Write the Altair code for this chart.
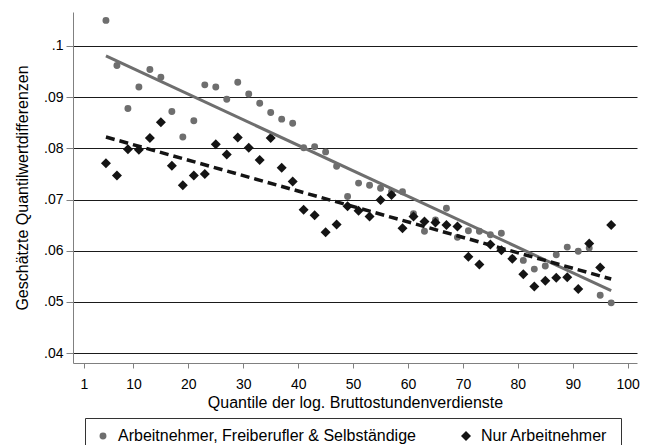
import altair as alt
import pandas as pd

quantiles = list(range(5, 98, 2))

names = ["Arbeitnehmer, Freiberufler & Selbständige", "Nur Arbeitnehmer"]

alle = [0.1050, 0.0962, 0.0878, 0.0920, 0.0954, 0.0939, 0.0872, 0.0822, 0.0854, 0.0924,
        0.0920, 0.0896, 0.0929, 0.0906, 0.0888, 0.0870, 0.0857, 0.0849, 0.0801, 0.0803,
        0.0793, 0.0765, 0.0706, 0.0732, 0.0728, 0.0722, 0.0715, 0.0715, 0.0672, 0.0638,
        0.0660, 0.0683, 0.0626, 0.0639, 0.0638, 0.0631, 0.0634, 0.0585, 0.0581, 0.0564,
        0.0570, 0.0592, 0.0607, 0.0599, 0.0605, 0.0513, 0.0498]

nur_an = [0.0771, 0.0747, 0.0798, 0.0797, 0.0820, 0.0851, 0.0766, 0.0728, 0.0747, 0.0750,
          0.0808, 0.0788, 0.0821, 0.0801, 0.0777, 0.0820, 0.0762, 0.0735, 0.0680, 0.0669,
          0.0636, 0.0651, 0.0687, 0.0678, 0.0667, 0.0699, 0.0709, 0.0644, 0.0667, 0.0657,
          0.0655, 0.0650, 0.0647, 0.0588, 0.0573, 0.0612, 0.0601, 0.0584, 0.0554, 0.0530,
          0.0541, 0.0547, 0.0548, 0.0525, 0.0614, 0.0567, 0.0650]

x_ticks = [1, 10, 20, 30, 40, 50, 60, 70, 80, 90, 100]
y_ticks = [0.04, 0.05, 0.06, 0.07, 0.08, 0.09, 0.1]

rows = []
for q, v in zip(quantiles, alle):
    rows.append({"q": q, "v": v, "serie": names[0]})
for q, v in zip(quantiles, nur_an):
    rows.append({"q": q, "v": v, "serie": names[1]})
df = pd.DataFrame(rows)

FONT = "Liberation Sans"
GREY = "#6e6e6e"
BLACK = "#141414"
AXC = "#808080"

xscale = alt.Scale(domain=[-1, 101.7], nice=False, zero=False)
yscale = alt.Scale(domain=[0.03805, 0.10664], nice=False, zero=False)

xaxis = alt.Axis(values=x_ticks, grid=False, tickSize=5, labelPadding=9,
                 title="Quantile der log. Bruttostundenverdienste", titlePadding=3,
                 domainColor=AXC, tickColor=AXC, labelFlush=False, labelOverlap=False)
yaxis = alt.Axis(values=y_ticks, labelExpr="substring(format(datum.value, '.2~f'), 1)",
                 grid=True, gridColor="#1a1a1a", gridWidth=1, tickSize=7,
                 tickColor=AXC, domainColor=AXC, labelPadding=3,
                 title="Geschätzte Quantilwertdifferenzen", titlePadding=13)

leg = alt.Legend(title="\u00a0", titleOrient="right", titlePadding=4,
                 orient="none", legendX=12, legendY=406, direction="horizontal",
                 strokeColor="#333333", padding=10, fillColor="white",
                 labelFontSize=16, labelFont=FONT, labelColor="#000",
                 columnPadding=42, labelOffset=7, symbolStrokeWidth=0, labelLimit=400)

base = alt.Chart(df)

points = base.mark_point(filled=True, opacity=1, strokeWidth=0).encode(
    x=alt.X("q:Q", scale=xscale, axis=xaxis),
    y=alt.Y("v:Q", scale=yscale, axis=yaxis),
    color=alt.Color("serie:N", scale=alt.Scale(domain=names, range=[GREY, BLACK]), legend=leg),
    shape=alt.Shape("serie:N", scale=alt.Scale(domain=names, range=["circle", "diamond"]), legend=leg),
    size=alt.Size("serie:N", scale=alt.Scale(domain=names, range=[48, 100]), legend=leg),
)

line1 = base.transform_filter(alt.datum.serie == names[0]).transform_regression(
    "q", "v", extent=[5, 97]).mark_line(color=GREY, strokeWidth=3).encode(
    x=alt.X("q:Q", scale=xscale), y=alt.Y("v:Q", scale=yscale))

line2 = base.transform_filter(alt.datum.serie == names[1]).transform_regression(
    "q", "v", extent=[5, 97]).mark_line(color=BLACK, strokeWidth=3.5, strokeDash=[9, 5]).encode(
    x=alt.X("q:Q", scale=xscale), y=alt.Y("v:Q", scale=yscale))

chart = alt.layer(points, line1, line2).properties(
    width=564, height=351,
    padding={"left": 65, "top": 4, "right": 6, "bottom": 82},
    autosize=alt.AutoSizeParams(type="none"),
).configure_view(stroke=None).configure_axis(
    labelFont=FONT, titleFont=FONT, labelFontSize=14, titleFontSize=16,
    titleFontWeight="normal", labelColor="#000", titleColor="#000",
).configure_legend(titleFont=FONT, titleFontSize=16)

chart.save("out.html", embed_options={"renderer": "svg", "actions": False})
